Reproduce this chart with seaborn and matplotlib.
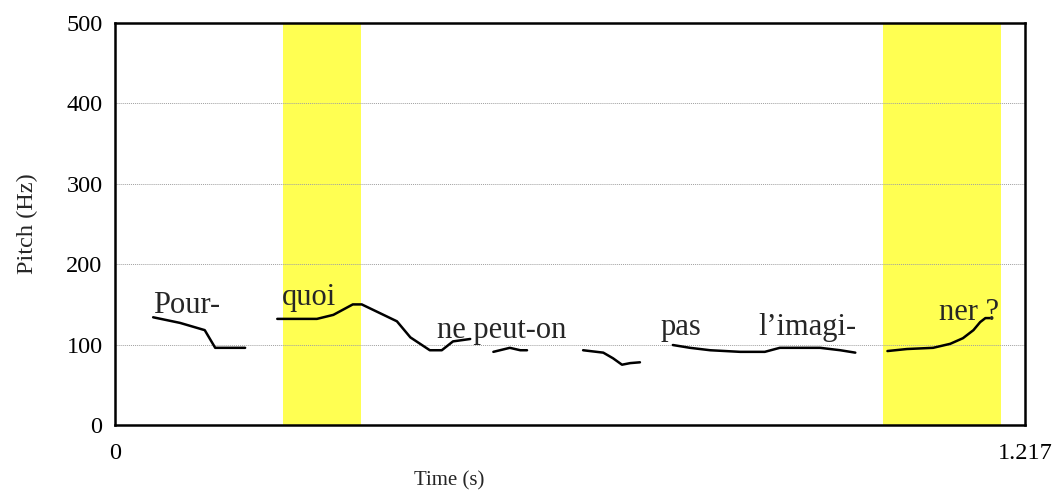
import pandas as pd
import seaborn as sns
import matplotlib.pyplot as plt

# pitch contour segments (time in s, pitch in Hz)
seg1_t = [0.051, 0.087, 0.120, 0.134, 0.174]
seg1_hz = [134, 127, 118, 96, 96]
seg2_t = [0.217, 0.270, 0.292, 0.318, 0.330, 0.377, 0.395, 0.421, 0.437, 0.452, 0.475]
seg2_hz = [132, 132, 137, 150, 150, 129, 109, 93, 93, 104, 107]
seg3_t = [0.506, 0.528, 0.542, 0.551]
seg3_hz = [91, 96, 93, 93]
seg4_t = [0.626, 0.653, 0.666, 0.678, 0.689, 0.702]
seg4_hz = [93, 90, 83, 75, 77, 78]
seg5_t = [0.746, 0.769, 0.796, 0.836, 0.869, 0.889, 0.943, 0.970, 0.990]
seg5_hz = [99.5, 96, 93, 91, 91, 96, 96, 93, 90]
seg6_t = [1.033, 1.059, 1.094, 1.117, 1.134, 1.148, 1.157, 1.164, 1.170]
seg6_hz = [92, 94.5, 96, 101, 108, 118, 128, 133, 133]

# highlighted syllables
span_start = [0.225, 1.027]
span_end = [0.329, 1.185]

# syllable labels
words = ["Pour-", "quoi", "ne peut-on", "pas", "l\u2019imagi-", "ner ?"]
word_t = [0.051, 0.223, 0.431, 0.729, 0.860, 1.102]
word_hz = [139, 149, 108, 112, 112, 131]

t_max = 1.217

segs = [(seg1_t, seg1_hz), (seg2_t, seg2_hz), (seg3_t, seg3_hz),
        (seg4_t, seg4_hz), (seg5_t, seg5_hz), (seg6_t, seg6_hz)]
rows = []
for i, (ts, hs) in enumerate(segs):
    for t, h in zip(ts, hs):
        rows.append({"seg": i, "time": t, "pitch": h})
df = pd.DataFrame(rows)

sns.set_style("white")
plt.rcParams["font.family"] = ["Liberation Serif", "DejaVu Serif"]

fig = plt.figure(figsize=(10.61, 4.91), dpi=100)
ax = fig.add_axes([0.1084, 0.1344, 0.8577, 0.8187])

for a, b in zip(span_start, span_end):
    ax.axvspan(a, b, color="#ffff52", lw=0, zorder=0)

for y in [100, 200, 300, 400]:
    ax.axhline(y, color="#a0a0a0", lw=0.7, ls=(0, (1, 1)), zorder=1)

sns.lineplot(data=df, x="time", y="pitch", units="seg", estimator=None,
             sort=False, color="black", lw=1.8, ax=ax, zorder=3)

for w, t, h in zip(words, word_t, word_hz):
    ax.text(t, h, w, fontsize=22, va="baseline", ha="left", zorder=4)

ax.set_xlim(0, t_max)
ax.set_ylim(0, 500)
ax.set_xticks([0, t_max])
ax.set_xticklabels(["0", "1.217"])
ax.set_yticks([0, 100, 200, 300, 400, 500])
ax.tick_params(axis="both", direction="out", length=7, width=1.5,
               labelsize=17.5, color="black", labelcolor="black", pad=2)
ax.tick_params(axis="x", pad=6)
for s in ax.spines.values():
    s.set_visible(True)
    s.set_color("black")
    s.set_linewidth(1.8)

ax.set_xlabel("Time (s)", fontsize=15)
ax.set_ylabel("Pitch (Hz)", fontsize=17.5, labelpad=20)
ax.xaxis.set_label_coords(0.367, -0.114)

fig.savefig("out.png", dpi=100)
